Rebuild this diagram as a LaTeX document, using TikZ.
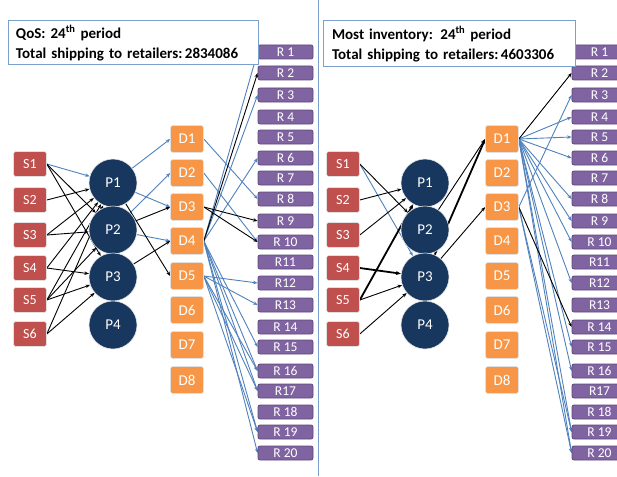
\documentclass[tikz,border=0pt]{standalone}
\usepackage{fontspec}
\setmainfont{Carlito}
\usetikzlibrary{arrows.meta}
\definecolor{sred}{HTML}{C0504D}
\definecolor{dorange}{HTML}{F79646}
\definecolor{pnavy}{HTML}{17375E}
\definecolor{rpurple}{HTML}{8064A2}
\definecolor{rborder}{HTML}{5F497A}
\definecolor{eblue}{HTML}{4F81BD}
\definecolor{tblue}{HTML}{7BA0CD}
\pgfdeclarelayer{bg}
\pgfsetlayers{bg,main}
\begin{document}
\begin{tikzpicture}[x=1pt,y=-1pt,
  sbox/.style={draw=black!12, line width=0.6pt, fill=sred, text=white, rounded corners=2.5pt,
    minimum width=33pt, minimum height=25pt, inner sep=0pt, font=\fontsize{14}{14}\selectfont},
  dbox/.style={draw=black!12, line width=0.6pt, fill=dorange, text=white, rounded corners=2.5pt,
    minimum width=33pt, minimum height=27pt, inner sep=0pt, font=\fontsize{15}{15}\selectfont},
  pcirc/.style={circle, draw=black!10, line width=0.6pt, fill=pnavy, text=white,
    minimum size=48pt, inner sep=0pt, font=\fontsize{15}{15}\selectfont},
  rbox/.style={draw=rborder, line width=0.8pt, fill=rpurple, text=white, rounded corners=2pt,
    minimum width=55pt, minimum height=14pt, inner sep=0pt, font=\fontsize{13.5}{13.5}\selectfont},
  tbox/.style={draw=tblue, line width=1pt, fill=white, align=left, inner ysep=0pt,
    font=\fontsize{15}{20}\bfseries\selectfont},
  divider/.style={draw=tblue, line width=1pt},
  be/.style={draw=eblue, line width=0.9pt, -{Stealth[length=4.5pt,width=3.5pt]}},
  ke/.style={draw=black, line width=0.9pt, -{Stealth[length=4.5pt,width=3.5pt]}},
  kt/.style={draw=black, line width=1.8pt, -{Stealth[length=5pt,width=4pt]}}
]
\useasboundingbox (0,0) rectangle (617,476);
\clip (0,0) rectangle (617,476);

% divider
\coordinate (divtop) at (318,0);
\coordinate (divbot) at (318,476);
\draw[divider] (divtop) -- (divbot);

% S, P, D nodes
\foreach \i/\yy in {1/164,2/200,3/235,4/268,5/300,6/334} {
  \node[sbox] (LS\i) at (30,\yy) {S\i};
  \node[sbox] (RS\i) at (343,\yy) {S\i};
}
\foreach \i/\yy in {1/183,2/230,3/277,4/325} {
  \node[pcirc] (LP\i) at (113,\yy) {P\i};
  \node[pcirc] (RP\i) at (425,\yy) {P\i};
}
\foreach \i/\yy in {1/139,2/173,3/207,4/241,5/276,6/310,7/345,8/380} {
  \node[dbox] (LD\i) at (187,\yy) {D\i};
  \node[dbox] (RD\i) at (502,\yy) {D\i};
}
\foreach \i/\yy/\lab in {1/52/R 1,2/73/R 2,3/95/R 3,4/117/R 4,5/137/R 5,6/158/R 6,7/178/R 7,
  8/199/R 8,9/221/R 9,10/242/R 10,11/262/R11,12/283/R12,13/305/R13,14/327/R 14,15/347/R 15,
  16/371/R 16,17/391/R17,18/412/R 18,19/432/R 19,20/453/R 20} {
  \node[rbox] (LR\i) at (285.5,\yy) {\lab};
  \node[rbox] (RR\i) at (599.5,\yy) {\lab};
}

% title boxes
\node[tbox, text width=234pt, inner xsep=8pt, minimum height=44pt] (LT) at (133,43)
  {QoS: 24\textsuperscript{th} period\\Total shipping to retailers:\,2834086};
\node[tbox, text width=234pt, inner xsep=9pt, minimum height=46pt] (RT) at (449,44)
  {Most inventory: 24\textsuperscript{th} period\\Total shipping to retailers:\,4603306};

\begin{pgfonlayer}{bg}
% ---------- left panel ----------
\foreach \a/\b in {LS1/LP1} \draw[be] (\a.east) -- (\b);
\foreach \a/\b in {LS1/LP2,LS1/LP3,LS2/LP1,LS3/LP1,LS3/LP2,LS4/LP1,LS4/LP3,
  LS5/LP1,LS5/LP2,LS5/LP3,LS6/LP1,LS6/LP3} \draw[ke] (\a.east) -- (\b);
\foreach \a/\b in {LP1/LD1,LP1/LD3,LP2/LD2,LP2/LD4} \draw[be] (\a) -- (\b.west);
\foreach \a/\b in {LP1/LD5,LP2/LD3,LP3/LD4} \draw[ke] (\a) -- (\b.west);
\foreach \a/\b in {LD4/LR1,LD4/LR3,LD4/LR6,LD1/LR8,LD2/LR10,LD5/LR12,LD5/LR13,
  LD4/LR15,LD4/LR16,LD5/LR16,LD4/LR17,LD5/LR17,LD4/LR19,LD5/LR19,LD4/LR20}
  \draw[be] (\a.east) -- (\b.west);
\foreach \a/\b in {LD4/LR2,LD3/LR9,LD3/LR10} \draw[ke] (\a.east) -- (\b.west);
% ---------- right panel ----------
\foreach \a/\b in {RS1/RP3} \draw[be] (\a.east) -- (\b);
\foreach \a/\b in {RS1/RP2,RS2/RP1,RS3/RP1,RS5/RP3,RS6/RP3} \draw[ke] (\a.east) -- (\b);
\foreach \a/\b in {RS4/RP3,RS5/RP1} \draw[kt] (\a.east) -- (\b);
\foreach \a/\b in {RP2/RD1,RP3/RD3} \draw[ke] (\a) -- (\b.west);
\foreach \a/\b in {RP3/RD1} \draw[kt] (\a) -- (\b.west);
\foreach \a/\b in {RD3/RR3,RD1/RR4,RD1/RR5,RD1/RR6,RD1/RR8,RD1/RR9,RD1/RR10,
  RD1/RR12,RD1/RR15,RD1/RR16,RD1/RR19,RD1/RR20,RD3/RR19,RD3/RR20}
  \draw[be] (\a.east) -- (\b.west);
\foreach \a/\b in {RD1/RR2,RD3/RR14} \draw[ke] (\a.east) -- (\b.west);
\end{pgfonlayer}
\end{tikzpicture}
\end{document}
